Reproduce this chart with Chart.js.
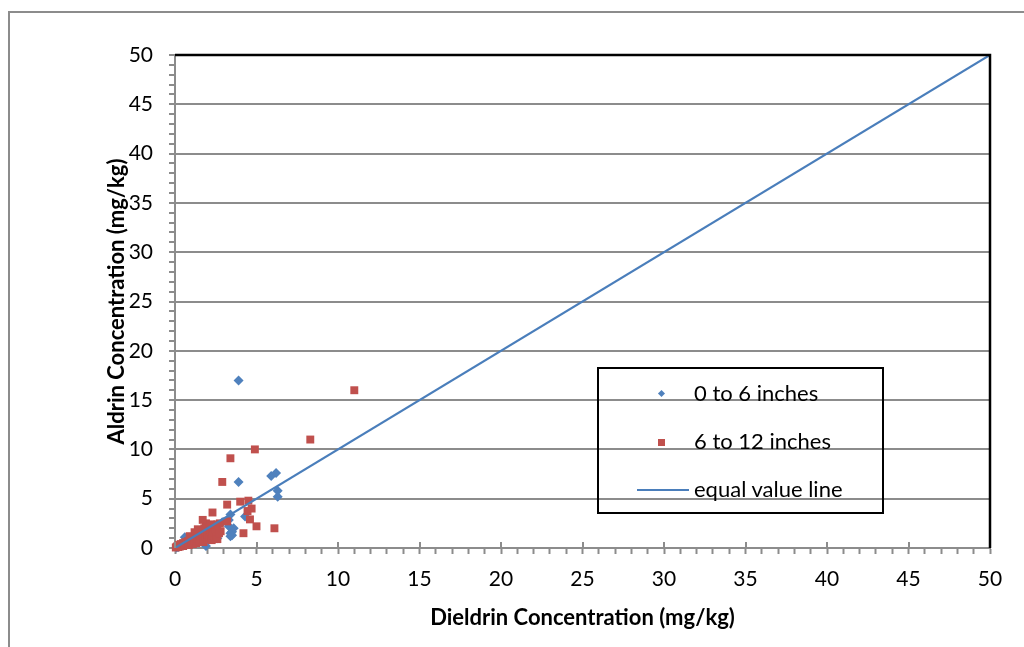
<!DOCTYPE html>
<html>
<head>
<meta charset="utf-8">
<title>Aldrin vs Dieldrin</title>
<script src="https://cdn.jsdelivr.net/npm/chart.js@4/dist/chart.umd.min.js"></script>
<style>
  body { margin: 0; background: #fff; }
  #wrap { position: relative; width: 1024px; height: 647px; overflow: hidden; }
  #frame { position: absolute; left: 8px; top: 11px; width: 1100px; height: 700px;
           border-left: 2px solid #8c8c8c; border-top: 2px solid #8c8c8c; }
  #chart { position: absolute; left: 0; top: 0; }
  #legend { position: absolute; left: 597px; top: 367px; width: 283px; height: 143px;
            border: 2px solid #000; font-family: Lato, sans-serif; font-size: 22px; color: #000; }
  .item { position: absolute; left: 0; right: 0; height: 24px; }
  .item span { position: absolute; left: 95px; top: 0; line-height: 24px; }
  .mark { position: absolute; }
</style>
</head>
<body>
<div id="wrap">
  <div id="frame"></div>
  <canvas id="chart" width="1024" height="647"></canvas>
  <div id="legend"></div>
</div>
<script>
const xTitle = 'Dieldrin Concentration (mg/kg)';
const yTitle = 'Aldrin Concentration (mg/kg)';
const axisMin = 0;
const axisMax = 50;
const majorStep = 5;

// 0 to 6 inches samples (dieldrin, aldrin)
const shallowX = [3.9, 5.9, 6.2, 6.3, 6.3, 3.9, 4.3, 3.4, 3.6, 3.4, 3.4, 3.5, 3.3, 3.5, 2.9, 2.6,
  2.2, 1.9, 1.5, 1.2, 0.9, 0.6, 0.7, 0.5, 0.3, 0.2, 0.1, 1.0, 1.4, 1.8, 2.4, 2.0, 1.1, 0.4, 0.8, 3.3];
const shallowY = [17.0, 7.3, 7.6, 5.8, 5.2, 6.7, 3.2, 3.4, 2.0, 1.5, 1.2, 1.65, 2.2, 1.3, 2.6, 1.0,
  1.4, 0.2, 0.6, 0.9, 1.0, 1.1, 0.8, 0.5, 0.3, 0.1, 0.05, 0.4, 1.1, 1.3, 1.7, 2.0, 1.2, 0.2, 0.5, 2.85];

// 6 to 12 inches samples (dieldrin, aldrin)
const deepX = [11.0, 8.3, 4.9, 3.4, 2.9, 4.0, 4.5, 4.45, 4.7, 3.2, 2.3, 4.6, 5.0, 6.1, 4.2, 3.2,
  2.8, 2.75, 1.9, 1.7, 2.6,
  0.05, 0.1, 0.15, 0.2, 0.25, 0.3, 0.35, 0.4, 0.5, 0.5, 0.6, 0.65, 0.7, 0.8, 0.85, 0.9, 1.0, 1.0,
  1.1, 1.15, 1.2, 1.3, 1.3, 1.4, 1.45, 1.5, 1.55, 1.6, 1.65, 1.7, 1.75, 1.8, 1.85, 1.9, 2.0, 2.0,
  2.1, 2.1, 2.2, 2.25, 2.3, 2.35, 2.4, 2.45, 2.5, 2.55, 2.6, 2.7, 2.2, 1.4, 1.2, 0.9];
const deepY = [16.0, 11.0, 10.0, 9.1, 6.7, 4.7, 4.8, 3.75, 4.0, 4.4, 3.6, 2.9, 2.2, 2.0, 1.5, 2.7,
  1.7, 2.5, 2.5, 2.85, 2.4,
  0.05, 0.1, 0.2, 0.1, 0.3, 0.15, 0.4, 0.25, 0.5, 0.2, 0.35, 0.6, 0.45, 0.7, 0.3, 0.55, 0.9, 0.6,
  0.4, 1.1, 0.75, 1.3, 0.5, 0.95, 1.5, 0.7, 1.2, 1.8, 0.9, 1.5, 0.6, 2.0, 1.2, 1.7, 0.9, 1.4,
  2.1, 1.1, 1.7, 0.8, 1.3, 2.2, 1.0, 1.6, 1.9, 1.2, 0.9, 1.5, 2.4, 1.9, 1.6, 1.2];

// equal value line endpoints
const equalX = [0, 50];
const equalY = [0, 50];

const toPoints = (xs, ys) => xs.map((x, i) => ({ x: x, y: ys[i] }));

const tickFont = { family: 'Lato', size: 21 };
const titleFont = { family: 'Lato', size: 22, weight: 'bold' };
const axisGray = '#8c8c8c';

// black top/right edge of the plot area plus major ticks crossing the x axis
const plotEdges = {
  id: 'plotEdges',
  afterDraw(chart) {
    const { ctx, chartArea } = chart;
    const xs = chart.scales.x;
    ctx.save();
    ctx.strokeStyle = axisGray;
    ctx.lineWidth = 2;
    for (let v = axisMin; v <= axisMax; v += majorStep) {
      const px = Math.round(xs.getPixelForValue(v));
      ctx.beginPath();
      ctx.moveTo(px, chartArea.bottom - 6);
      ctx.lineTo(px, chartArea.bottom);
      ctx.stroke();
    }
    ctx.strokeStyle = '#000';
    ctx.lineWidth = 2.5;
    ctx.beginPath();
    ctx.moveTo(chartArea.left, chartArea.top);
    ctx.lineTo(chartArea.right, chartArea.top);
    ctx.lineTo(chartArea.right, chartArea.bottom);
    ctx.stroke();
    ctx.restore();
  }
};

const gridColor = c => (c.tick && c.tick.value % majorStep === 0) ? axisGray : 'rgba(0,0,0,0)';

const chart = new Chart(document.getElementById('chart'), {
  type: 'scatter',
  data: {
    datasets: [{
      label: '0 to 6 inches',
      data: toPoints(shallowX, shallowY),
      pointStyle: 'rectRot',
      pointRadius: 5,
      backgroundColor: '#4f81bd',
      borderColor: '#4f81bd',
      borderWidth: 0,
      clip: 10,
      order: 2
    }, {
      label: '6 to 12 inches',
      data: toPoints(deepX, deepY),
      pointStyle: 'rect',
      pointRadius: 5.6,
      backgroundColor: '#c0504d',
      borderColor: '#c0504d',
      borderWidth: 0,
      clip: 10,
      order: 1
    }, {
      label: 'equal value line',
      type: 'line',
      data: toPoints(equalX, equalY),
      showLine: true,
      borderColor: '#4a7ebb',
      borderWidth: 2.2,
      pointRadius: 0,
      fill: false,
      order: 0
    }]
  },
  options: {
    responsive: false,
    animation: false,
    layout: { padding: { left: 95, top: 55, right: 34, bottom: 0 } },
    plugins: { legend: { display: false }, tooltip: { enabled: false } },
    scales: {
      x: {
        type: 'linear',
        min: axisMin,
        max: axisMax,
        afterFit: s => { s.height = 99; },
        border: { color: axisGray, width: 2 },
        grid: { drawOnChartArea: false, tickLength: 6, tickColor: axisGray, tickWidth: 2 },
        ticks: {
          stepSize: 1, autoSkip: false, maxTicksLimit: 100, maxRotation: 0,
          padding: 13, color: '#000', font: tickFont,
          callback: v => v % majorStep === 0 ? v : ''
        },
        title: { display: true, text: xTitle, color: '#000', font: titleFont, padding: { top: 0, bottom: 16 } }
      },
      y: {
        type: 'linear',
        min: axisMin,
        max: axisMax,
        afterFit: s => { s.width = 80; },
        border: { color: axisGray, width: 2 },
        grid: { color: gridColor, lineWidth: 2, tickLength: 6, tickColor: axisGray, tickWidth: 2 },
        ticks: {
          stepSize: 1, autoSkip: false, maxTicksLimit: 100,
          padding: 16, color: '#000', font: tickFont,
          callback: v => v % majorStep === 0 ? v : ''
        },
        title: { display: true, text: yTitle, color: '#000', font: titleFont, padding: { top: 9, bottom: 0 } }
      }
    }
  },
  plugins: [plotEdges]
});

// legend box built from the chart's datasets
const legend = document.getElementById('legend');
const rowTops = [12, 60, 108];
chart.data.datasets.forEach((ds, i) => {
  const row = document.createElement('div');
  row.className = 'item';
  row.style.top = rowTops[i] + 'px';
  const mark = document.createElement('div');
  mark.className = 'mark';
  if (ds.pointStyle === 'rectRot') {
    Object.assign(mark.style, { left: '60px', top: '10px', width: '5px', height: '5px',
      background: ds.backgroundColor, transform: 'rotate(45deg)' });
  } else if (ds.pointStyle === 'rect') {
    Object.assign(mark.style, { left: '59px', top: '10px', width: '7px', height: '7px',
      background: ds.backgroundColor });
  } else {
    Object.assign(mark.style, { left: '38px', top: '12px', width: '52px', height: '2px',
      background: ds.borderColor });
  }
  const text = document.createElement('span');
  text.textContent = ds.label;
  row.appendChild(mark);
  row.appendChild(text);
  legend.appendChild(row);
});
</script>
</body>
</html>
